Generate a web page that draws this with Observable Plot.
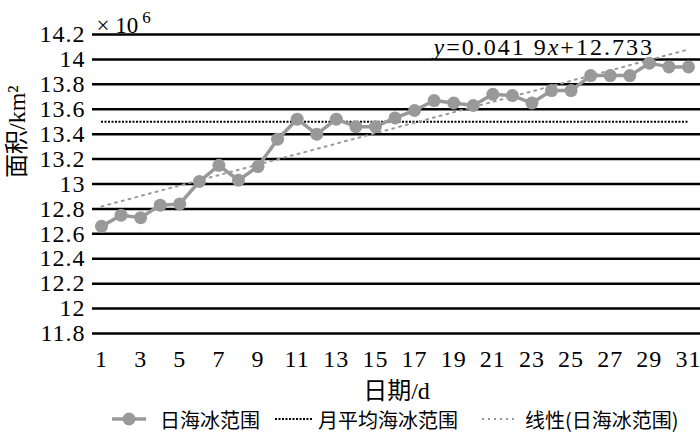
<!DOCTYPE html>
<html><head><meta charset="utf-8">
<script src="https://cdn.jsdelivr.net/npm/d3@7"></script>
<script src="https://cdn.jsdelivr.net/npm/@observablehq/plot@0.6"></script>
<style>
body{margin:0;background:#fff;width:700px;height:433px;overflow:hidden;}
#chart svg, #chart svg text, #chart svg tspan{font-family:"Liberation Serif","Times New Roman","Noto Sans CJK SC",serif !important;}
#legend{position:relative;height:27px;font-family:"Noto Sans CJK SC","Liberation Serif",serif;font-size:20px;color:#000;}
#legend svg, #legend span{position:absolute;}
#legend span{top:0;line-height:27px;white-space:nowrap;}
#legend svg{top:5px;}
</style></head><body>
<div id="chart"></div>
<div id="legend"></div>
<script>
const days = [1,2,3,4,5,6,7,8,9,10,11,12,13,14,15,16,17,18,19,20,21,22,23,24,25,26,27,28,29,30,31];
const dailyExtent = [12.66,12.75,12.73,12.83,12.84,13.02,13.15,13.03,13.14,13.36,13.52,13.40,13.52,13.46,13.46,13.53,13.59,13.67,13.65,13.63,13.72,13.71,13.65,13.75,13.75,13.87,13.87,13.87,13.97,13.94,13.94];
const monthlyMean = 13.5;
const trendDays = [1, 31];
const trendValues = [12.82, 14.08];
const equationText = ["y", "=0.041 9", "x", "+12.733"];
const yTicks = [11.8,12,12.2,12.4,12.6,12.8,13,13.2,13.4,13.6,13.8,14,14.2];
const xTicks = [1,3,5,7,9,11,13,15,17,19,21,23,25,27,29,31];
const legendLabels = ["日海冰范围","月平均海冰范围","线性(日海冰范围)"];
const yLabel = "面积/km²";
const xLabel = "日期/d";
const eqPos = {x: 23.6, y: 14.1};

const data = days.map((d,i)=>({day:d, v:dailyExtent[i]}));
const trend = trendDays.map((d,i)=>({day:d, v:trendValues[i]}));
const grey = "#999999";

const plot = Plot.plot({
  width:700, height:406,
  marginLeft:92, marginRight:0, marginTop:34, marginBottom:73,
  x:{domain:[1,31], insetLeft:9, insetRight:12},
  y:{domain:[11.8,14.2]},
  style:{fontSize:"24px", color:"#000", background:"#fff", overflow:"visible"},
  marks:[
    Plot.ruleY(yTicks,{stroke:"#000", strokeWidth:2.5}),
    Plot.axisY({ticks:yTicks, tickSize:0, tickPadding:7, label:null, tickFormat:d=>String(d), fontSize:24, className:"ticks"}),
    Plot.axisX({ticks:xTicks, tickSize:0, tickPadding:16, label:null, tickFormat:d=>String(d), fontSize:24, className:"ticks"}),
    Plot.ruleY([monthlyMean],{x1:days[0], x2:days[days.length-1], stroke:"#000", strokeWidth:2, strokeDasharray:"2,1.5"}),
    Plot.line(trend,{x:"day", y:"v", stroke:grey, strokeWidth:2, strokeDasharray:"2,5"}),
    Plot.line(data,{x:"day", y:"v", stroke:grey, strokeWidth:3.5}),
    Plot.dot(data,{x:"day", y:"v", r:6.5, fill:grey, stroke:"none"}),
    Plot.text([0],{x:()=>eqPos.x, y:()=>eqPos.y, text:()=>"eq", fontSize:24, textAnchor:"middle", className:"eq"}),
    Plot.text([yLabel],{frameAnchor:"left", rotate:-90, dx:-75, dy:-6, fontSize:24, text:d=>d}),
    Plot.text([xLabel],{frameAnchor:"bottom", dy:65, fontSize:24, text:d=>d}),
    Plot.text(["× 10"],{frameAnchor:"top-left", dx:4, dy:-18, textAnchor:"start", fontSize:23, text:d=>d, className:"sci"})
  ]
});
document.getElementById("chart").append(plot);
d3.select(plot).selectAll(".ticks text").attr("letter-spacing","1px");

// equation with italic variables
const eqText = d3.select(plot).select(".eq text").attr("letter-spacing","2px");
eqText.text(null);
equationText.forEach((t,i)=>{
  const ts = eqText.append("tspan").text(t);
  if (i % 2 === 0) ts.attr("font-style","italic");
});

const sci = d3.select(plot).select(".sci text");
sci.append("tspan").attr("font-size",17).attr("dy","-0.55em").attr("dx","4").text("6");

// legend
const lg = d3.select("#legend");
const items = [
  {sx:112, w:34, tx:160, draw:s=>{s.append("line").attr("x1",0).attr("x2",34).attr("y1",8).attr("y2",8).attr("stroke",grey).attr("stroke-width",3.5);s.append("circle").attr("cx",17).attr("cy",8).attr("r",6.5).attr("fill",grey);}},
  {sx:275, w:38, tx:318, draw:s=>{s.append("line").attr("x1",0).attr("x2",38).attr("y1",8).attr("y2",8).attr("stroke","#000").attr("stroke-width",2).attr("stroke-dasharray","2,1.5");}},
  {sx:482, w:32, tx:525, draw:s=>{s.append("line").attr("x1",0).attr("x2",32).attr("y1",8).attr("y2",8).attr("stroke",grey).attr("stroke-width",2).attr("stroke-dasharray","2,4");}}
];
items.forEach((it,i)=>{
  const s = lg.append("svg").attr("width",it.w).attr("height",16).style("left",it.sx+"px");
  it.draw(s);
  lg.append("span").style("left",it.tx+"px").text(legendLabels[i]);
});
</script>
</body></html>
